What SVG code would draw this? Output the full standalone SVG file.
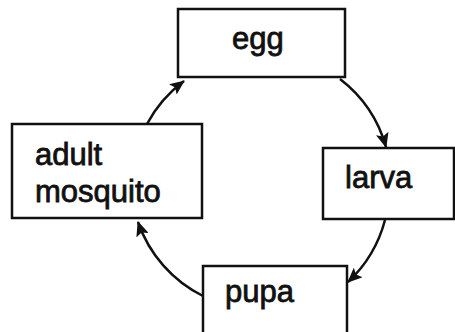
<svg xmlns="http://www.w3.org/2000/svg" width="455" height="332" viewBox="0 0 455 332">
<style>
.box{fill:#fff;stroke:#111;stroke-width:2.5}
.lbl{font-family:"Liberation Sans",Arial,sans-serif;font-size:31px;fill:#111;stroke:#111;stroke-width:0.8}
.con{fill:none;stroke:#111;stroke-width:2.5}
</style>
<defs>
<marker id="ah" markerUnits="userSpaceOnUse" markerWidth="15" markerHeight="13" refX="14" refY="6.5" orient="auto">
<path d="M0,0 L15,6.5 L0,13 L3,6.5 z" fill="#111"/>
</marker>
</defs>
<rect width="455" height="332" fill="#fff"/>
<g id="connectors">
<path class="con" d="M340,79 A130,130 0 0 1 386,147" marker-end="url(#ah)"/>
<path class="con" d="M385,220 A130,130 0 0 1 348,282" marker-end="url(#ah)"/>
<path class="con" d="M203,296 A130,130 0 0 1 138,222" marker-end="url(#ah)"/>
<path class="con" d="M147,124 A130,130 0 0 1 184,81" marker-end="url(#ah)"/>
</g>
<g id="egg">
<rect class="box" x="178" y="9" width="167" height="68"/>
<text class="lbl" x="232" y="49">egg</text>
</g>
<g id="larva">
<rect class="box" x="323" y="148" width="131" height="71"/>
<text class="lbl" x="345" y="188">larva</text>
</g>
<g id="pupa">
<rect class="box" x="203" y="266" width="144" height="80"/>
<text class="lbl" x="225" y="302">pupa</text>
</g>
<g id="adult">
<rect class="box" x="12" y="124" width="190" height="94"/>
<text class="lbl" x="35" y="165">adult</text>
<text class="lbl" x="35" y="202">mosquito</text>
</g>
</svg>
